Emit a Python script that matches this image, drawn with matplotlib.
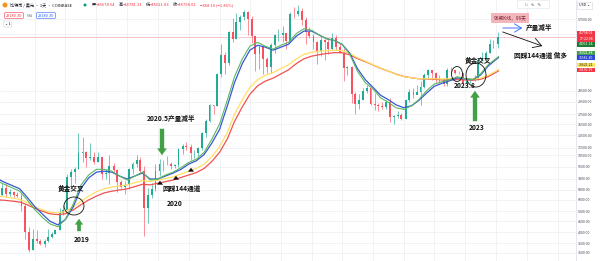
import matplotlib
matplotlib.use('Agg')
import matplotlib.pyplot as plt
from matplotlib.patches import Ellipse, Rectangle
from matplotlib.ticker import FixedLocator, FuncFormatter
import pandas as pd

plt.rcParams['font.family'] = ['Noto Sans CJK SC', 'DejaVu Sans']

W, H = 600, 261
PANE_R = 576  # right edge of the price pane (px)

# --- BTC/USD, half-month candles ---
candle_start = pd.date_range('2018-08-15', '2024-01-01', freq='SMS')
first_open = 6400
closes = [7000, 6500, 6600, 6400, 6300, 5600, 4000, 3200, 3700,
          3600, 3450, 3600, 3800, 3900, 4100, 5100, 5300, 8000, 8500, 8800, 10800,
          10900, 10100, 10300, 9600, 10300, 8300, 8400, 9200, 8700, 7550, 7100, 7200,
          8800, 9350, 9900, 8600, 5400, 6400, 6900, 8650, 9400, 9450, 9400, 9150,
          9250, 11350, 11850, 11650, 10800, 10800, 11500, 13800, 16000, 19700, 19300, 29000,
          36800, 33100, 48800, 45100, 55800, 58800, 63200, 57700, 46400, 37300, 40500, 35000,
          31800, 41500, 47000, 47100, 48100, 43800, 61500, 61300, 63500, 57000, 48900, 46300,
          43100, 38500, 44500, 43200, 39700, 45500, 40600, 37700, 31300, 31800, 22500, 19900,
          20800, 23300, 24300, 20000, 19700, 19400, 19100, 20500, 16900, 17200, 17400, 16550,
          20900, 23100, 22200, 23100, 24700, 28500, 30300, 29300, 27200, 27200, 25600, 30500,
          30300, 29300, 29200, 25900, 26600, 27000, 27000, 34700, 35500, 37700, 41900, 42300,
          45800]
highs = [7400, 7400, 6850, 6700, 6650, 6550, 5700, 4300, 4200,
         4100, 3700, 3700, 4200, 4000, 4150, 5450, 5650, 8300, 8800, 9100, 13800,
         13200, 11000, 12300, 10900, 10900, 10300, 8800, 10500, 9500, 8800, 7700, 7600,
         8900, 9600, 10500, 10300, 9200, 6950, 7450, 9450, 10050, 9950, 10400, 9600,
         9450, 11450, 12100, 12450, 12050, 11150, 11700, 14000, 16500, 19900, 19600, 29300,
         41900, 38000, 49700, 58300, 61800, 60600, 64800, 63500, 59500, 46400, 41300, 41000,
         36000, 42600, 47900, 50500, 52900, 48500, 62900, 67000, 69000, 66000, 59100, 52100,
         47900, 43500, 45800, 45000, 45400, 48200, 47400, 42900, 40000, 31900, 31900, 23000,
         22500, 24300, 25200, 24400, 22700, 20200, 20400, 21000, 21400, 17300, 18300, 17900,
         21100, 23900, 24200, 25200, 26500, 29200, 31000, 30500, 29800, 28500, 27500, 31400,
         31800, 30400, 30200, 29300, 26800, 27500, 28600, 35200, 37900, 38400, 44700, 44400,
         49000]
lows = [6300, 6200, 6300, 6200, 6250, 5200, 3700, 3150, 3200,
        3500, 3400, 3350, 3550, 3750, 3900, 4100, 5000, 5300, 6900, 7450, 8800,
        9600, 9100, 9900, 9400, 9600, 7800, 7800, 7300, 8500, 6600, 7000, 6450,
        6900, 8300, 9100, 8400, 3850, 4500, 6150, 6750, 8100, 8600, 9250, 8850,
        9000, 9050, 10600, 11150, 9900, 10150, 10400, 11250, 13200, 15800, 17600, 19300,
        28000, 28900, 32300, 43000, 44900, 50400, 56800, 47000, 42800, 30000, 31000, 28800,
        29300, 29300, 37600, 43900, 43000, 39600, 43300, 58000, 59700, 53300, 42000, 45500,
        39600, 32900, 36300, 34300, 37200, 39000, 39300, 37600, 26700, 28600, 20100, 17600,
        18800, 20800, 22700, 19600, 18500, 18200, 18800, 18700, 15800, 15500, 16800, 16400,
        16500, 20400, 21400, 22800, 19600, 24200, 27200, 27000, 26000, 25900, 24800, 25000,
        29700, 28900, 28800, 25200, 24900, 26000, 26600, 26800, 34100, 35000, 37600, 40200,
        40300]

# --- EMA lines (144 / 169 / 576 / 676), monthly readings ---
ma_dates = pd.DatetimeIndex(['2018-08-15']).append(
    pd.date_range('2018-09-01', '2023-12-01', freq='MS')).append(pd.DatetimeIndex(['2024-01-11']))
ema144 = [7500, 7300, 7000, 6700, 6000,
          5300, 4800, 4450, 4300, 4700, 5700, 7200, 8200, 8800, 8800, 8600, 8100,
          7700, 8100, 8500, 7700, 7800, 8200, 8500, 9000, 9600, 10000, 10900, 12800,
          15500, 21000, 28000, 35000, 41000, 43000, 41000, 39500, 41500, 43000, 48000, 51000,
          50000, 47000, 45000, 44000, 42000, 37000, 30000, 26000, 24000, 21500, 20300, 19000,
          18600, 19500, 21000, 23500, 25500, 26300, 27000, 28000, 27300, 27000, 29000, 32500,
          36000]
ema169 = [7700, 7500, 7200, 6900, 6200,
          5500, 5000, 4600, 4400, 4700, 5500, 6900, 7900, 8500, 8600, 8500, 8100,
          7800, 8100, 8400, 7800, 7800, 8100, 8400, 8800, 9400, 9800, 10600, 12200,
          14500, 19500, 26000, 33000, 39000, 41500, 40500, 39000, 40500, 42000, 46500, 49500,
          49500, 47000, 45000, 44000, 42000, 37500, 31000, 27000, 24500, 22200, 21000, 19700,
          19000, 19500, 20800, 22800, 24800, 25800, 26600, 27600, 27200, 27000, 28600, 32000,
          35600]
ema576 = [6300, 6250, 6150, 6050, 5800,
          5500, 5300, 5150, 5100, 5200, 5500, 5900, 6300, 6650, 6900, 7050, 7150,
          7250, 7450, 7650, 7550, 7700, 7850, 8000, 8300, 8600, 8900, 9400, 10300,
          11700, 14000, 17500, 21000, 24500, 27000, 28500, 29500, 31000, 32500, 35000, 37000,
          38000, 38500, 38800, 39000, 38800, 37500, 35500, 34000, 32500, 31200, 30000, 28800,
          28000, 27600, 27300, 27300, 27300, 27200, 27300, 27400, 27300, 27200, 27500, 28500,
          30600]
ema676 = [6000, 5980, 5920, 5850, 5650,
          5400, 5200, 5050, 5000, 5050, 5300, 5650, 6000, 6300, 6550, 6700, 6800,
          6900, 7100, 7300, 7250, 7400, 7550, 7700, 7950, 8200, 8450, 8900, 9700,
          10900, 12900, 16000, 19200, 22500, 25000, 26500, 27500, 29000, 30500, 33000, 35000,
          36200, 36900, 37400, 37800, 37800, 36800, 35100, 33800, 32400, 31100, 30000, 28900,
          28100, 27600, 27300, 27200, 27100, 26900, 26900, 27000, 26900, 26800, 27100, 28000,
          30100]

price_ticks = [3100, 3500, 4000, 4600, 5200, 6000, 6800, 7800, 9100, 10500, 11500,
               13500, 15500, 17500, 20500, 23500, 47500, 57500]
grid_dates = pd.to_datetime(['2019-01-01', '2019-05-01', '2019-09-01', '2020-01-01', '2020-05-01',
                             '2020-09-01', '2021-01-01', '2021-05-01', '2021-09-01', '2022-01-01',
                             '2022-05-01', '2022-09-01', '2023-01-01', '2023-05-01', '2023-09-01',
                             '2024-01-01', '2024-05-01', '2024-09-01'])

last_price = 45798.01

UP, DOWN = '#22ab94', '#f7525f'


def ax_pt(x, y):
    return (x / PANE_R, 1 - y / H)


def fig_pt(x, y):
    return (x / W, 1 - y / H)


fig = plt.figure(figsize=(W / 100, H / 100), dpi=100)
ax = fig.add_axes([0, 0, PANE_R / W, 1])
ax.set_yscale('log')
ax.set_ylim(2800, 73000)
ax.set_xlim(pd.Timestamp('2018-08-15'), pd.Timestamp('2024-11-13'))

# candles
opens = [first_open] + closes[:-1]
mid = candle_start + pd.Timedelta(days=7)
for t, o, h, l, c in zip(mid, opens, highs, lows, closes):
    col = UP if c >= o else DOWN
    ax.vlines(t, l, h, color=col, lw=0.45, zorder=3)
    ax.bar(t, abs(c - o) or c * 0.004, width=7.5, bottom=min(o, c), color=col, lw=0, zorder=3)

# EMA lines
ax.plot(ma_dates, ema676, color='#ef5350', lw=0.9, zorder=4)
ax.plot(ma_dates, ema576, color='#ffe066', lw=0.9, zorder=4)
ax.plot(ma_dates, ema169, color='#3856d6', lw=0.9, zorder=4)
ax.plot(ma_dates, ema144, color='#5cb860', lw=0.8, zorder=4)

ax.axhline(last_price, color='#f7525f', lw=0.5, alpha=0.45, zorder=2)

# axes styling
ax.yaxis.tick_right()
ax.yaxis.set_major_locator(FixedLocator(price_ticks))
ax.yaxis.set_minor_locator(FixedLocator([]))
ax.yaxis.set_major_formatter(FuncFormatter(lambda v, p: f'{v:.2f}'))
ax.tick_params(axis='y', labelsize=2.6, length=0, pad=1.5, labelcolor='#434651')
ax.xaxis.set_major_locator(FixedLocator([d.toordinal() - 719163 for d in grid_dates]))
ax.tick_params(axis='x', labelbottom=False, length=0)
ax.grid(True, color='#eef0f4', lw=0.6, zorder=0)
for s in ['top', 'left', 'bottom']:
    ax.spines[s].set_visible(False)
ax.spines['right'].set_color('#e0e3eb')
ax.spines['right'].set_linewidth(0.6)

# --- annotations ---
tkw = dict(transform=ax.transAxes, ha='center', va='center', fontsize=4.8,
           fontweight='bold', color='#111111', zorder=10)
green_arrow = dict(arrowstyle='simple,head_length=0.7,head_width=1.0,tail_width=0.45',
                   fc='#43a047', ec='none')
black_up = dict(arrowstyle='simple,head_length=0.7,head_width=1.1,tail_width=0.45',
                fc='#111111', ec='none', mutation_scale=4)


def arrow(tip, tail, props, scale=None):
    p = dict(props)
    if scale:
        p['mutation_scale'] = scale
    ax.annotate('', xy=ax_pt(*tip), xytext=ax_pt(*tail), xycoords='axes fraction',
                textcoords='axes fraction', arrowprops=p, zorder=10)


def ring(cx, cy, w, h):
    ax.add_patch(Ellipse(ax_pt(cx, cy), w / PANE_R, h / H, transform=ax.transAxes,
                         fill=False, ec='#111111', lw=0.6, zorder=10))


# 2019
ax.text(*ax_pt(71, 188), '黄金交叉', **tkw)
ring(74, 206, 20, 18)
arrow((79, 216), (79, 234), green_arrow, 6)
ax.text(*ax_pt(82, 240), '2019', **tkw)

# 2020
ax.text(*ax_pt(171, 118), '2020.5产量减半', **tkw)
arrow((162, 158), (162, 126), green_arrow, 7)
for bx, by in [(160, 178), (176, 173), (191, 165)]:
    arrow((bx, by), (bx, by + 6), black_up)
ax.text(*ax_pt(182, 189), '回踩144通道', **tkw)
ax.text(*ax_pt(175, 204), '2020', **tkw)

# 2023
ax.text(*ax_pt(478, 61), '黄金交叉', **tkw)
ring(476, 75, 20, 24)
ring(457, 74, 11, 15)
ax.text(*ax_pt(465, 86), '2023.8', **tkw)
arrow((475, 88), (475, 124), green_arrow, 7)
ax.text(*ax_pt(477, 128), '2023', **tkw)

# halving projection
ax.text(*ax_pt(510, 18), '96根K线，96天', transform=ax.transAxes, ha='center', va='center',
        fontsize=3.4, color='#7a1f2b', zorder=10,
        bbox=dict(boxstyle='square,pad=0.5', fc='#f2b6bd', ec='none'))
ax.annotate('', xy=ax_pt(525, 28), xytext=ax_pt(500, 28), xycoords='axes fraction',
            textcoords='axes fraction',
            arrowprops=dict(arrowstyle='->,head_length=0.5,head_width=0.3', color='#2962ff', lw=0.6))
ax.text(*ax_pt(539, 27), '产量减半', **tkw)
ax.annotate('', xy=ax_pt(545, 47), xytext=ax_pt(500, 31), xycoords='axes fraction',
            textcoords='axes fraction',
            arrowprops=dict(arrowstyle='->,head_length=0.6,head_width=0.35', color='#111111', lw=0.6))
ax.text(*ax_pt(541, 55), '回踩144通道 做多', **tkw)

# --- price scale labels ---
tags = [('45798.01', 31, 42, '#f23645', 'white'),
        ('44911.14', 42, 46.5, '#1e7d32', 'white'),
        ('36021.88', 50.7, 55, '#43a047', 'white'),
        ('35582.40', 55.3, 60, '#2946d9', 'white'),
        ('30621.21', 63, 67, '#fbe45b', '#222222'),
        ('30130.39', 67.7, 72, '#f23645', 'white')]
for txt, y0, y1, fc, tc in tags:
    fig.add_artist(Rectangle(fig_pt(577, y1), 18 / W, (y1 - y0) / H, transform=fig.transFigure,
                             fc=fc, ec='none', zorder=20))
    ty = (y0 + y1) / 2 if txt != '45798.01' else 33.5
    fig.text(*fig_pt(586, ty), txt, ha='center', va='center', fontsize=2.5, color=tc, zorder=21)
fig.text(*fig_pt(586, 38.8), '17:22:08', ha='center', va='center', fontsize=2.5, color='white',
         zorder=21)
fig.add_artist(Rectangle(fig_pt(577, 9), 15 / W, 7 / H, transform=fig.transFigure,
                         fc='white', ec='#d1d4dc', lw=0.4, zorder=20))
fig.text(*fig_pt(584.5, 5.5), 'USD ⌄', ha='center', va='center', fontsize=2.6, color='#131722',
         zorder=21)

# --- header ---
fig.add_artist(Ellipse(fig_pt(5, 5), 5 / W, 5 / H, transform=fig.transFigure,
                       fc='#f7931a', ec='none', zorder=20))
fig.text(*fig_pt(10, 5), '比特币 / 美元 · 1天 · COINBASE', ha='left', va='center',
         fontsize=3.0, color='#131722', zorder=21)
fig.add_artist(Ellipse(fig_pt(85, 5), 3 / W, 3 / H, transform=fig.transFigure,
                       fc='#089981', ec='none', zorder=20))
ohlc = [('开', '=46678.54'), ('高', '=46781.31'), ('低', '=45621.03'), ('收', '=45798.01')]
for i, (k, v) in enumerate(ohlc):
    fig.text(*fig_pt(92 + i * 27, 5), k, ha='left', va='center', fontsize=3.0, color='#131722',
             zorder=21)
    fig.text(*fig_pt(96 + i * 27, 5), v, ha='left', va='center', fontsize=3.0, color='#f23645',
             zorder=21)
fig.text(*fig_pt(200, 5), '−868.10 (−1.86%)', ha='left', va='center', fontsize=3.0,
         color='#f23645', zorder=21)
fig.text(*fig_pt(14, 15.5), '29180.30', ha='center', va='center', fontsize=2.8, color='#f23645',
         zorder=21, bbox=dict(boxstyle='round,pad=0.3', fc='white', ec='#f23645', lw=0.4))
fig.text(*fig_pt(30, 15.5), 'N/A', ha='center', va='center', fontsize=2.6, color='#787b86',
         zorder=21)
fig.text(*fig_pt(46, 15.5), '29180.30', ha='center', va='center', fontsize=2.8, color='#2962ff',
         zorder=21, bbox=dict(boxstyle='round,pad=0.3', fc='white', ec='#2962ff', lw=0.4))
fig.text(*fig_pt(7.5, 24), '⌄ 1', ha='center', va='center', fontsize=2.6, color='#131722',
         zorder=21, bbox=dict(boxstyle='round,pad=0.3', fc='white', ec='#d1d4dc', lw=0.4))

# drawing toolbar
fig.add_artist(Rectangle(fig_pt(517, 8), 32 / W, 8 / H, transform=fig.transFigure,
                         fc='white', ec='#e0e3eb', lw=0.4, zorder=20))
fig.text(*fig_pt(533, 4), '⁞⁞   ∿   ✎', ha='center', va='center', fontsize=3.2,
         color='#434651', zorder=21)

fig.savefig('out.png', dpi=100)
